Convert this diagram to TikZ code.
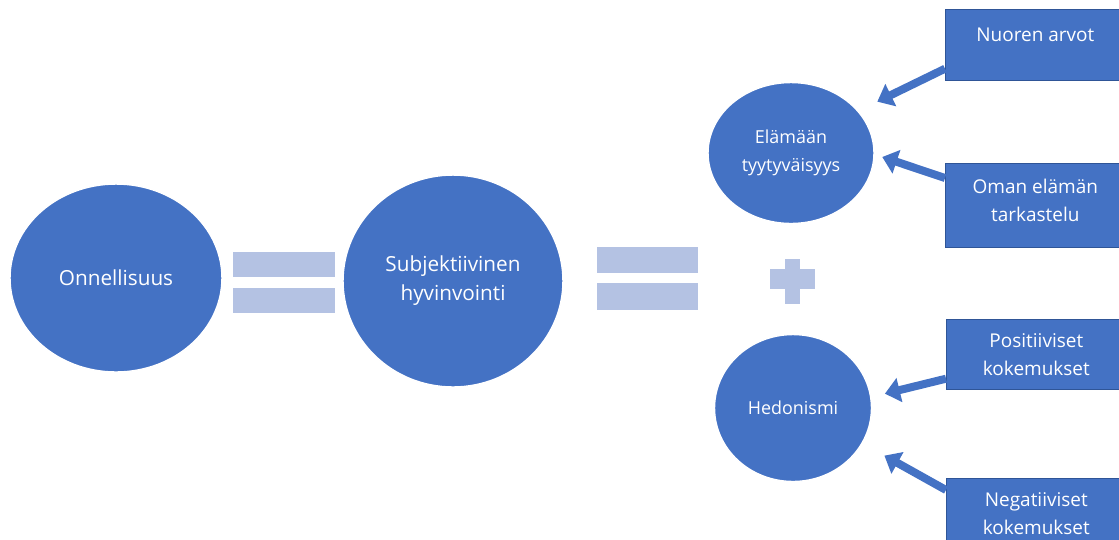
\documentclass[tikz,border=0pt]{standalone}
\usepackage{fontspec}
\setmainfont{Open Sans}
\usepackage{tikz}
\usetikzlibrary{calc, positioning, arrows.meta, shapes.geometric}

\definecolor{officeblue}{HTML}{4472C4}
\definecolor{officedark}{HTML}{2F5597}
\definecolor{eqblue}{HTML}{B4C2E3}

\begin{document}
\begin{tikzpicture}[
  x=0.02cm, y=-0.02cm,
  font=\fontsize{10.2}{16}\selectfont,
  circ/.style={ellipse, fill=officeblue, draw=white, line width=0.8pt, text=white, align=center, inner sep=0pt},
  bigcirc/.style={circ, font=\fontsize{11.8}{16.5}\selectfont},
  infobox/.style={draw=officedark, line width=0.4pt, fill=officeblue, text=white, align=center,
    anchor=north west, minimum width=3.6cm, inner sep=2pt, font=\fontsize{10.8}{16}\selectfont},
  blockarr/.style={-{Triangle[length=0.3cm, width=0.48cm]}, line width=0.16cm, draw=officeblue},
  eq/.style={fill=eqblue}
]
  \useasboundingbox (0,0) rectangle (1119,539);
  \clip (0,0) rectangle (1119,539);

  % main circles
  \node[bigcirc, minimum width=4.24cm, minimum height=3.76cm] (onni) at (116,278) {Onnellisuus};
  \node[bigcirc, minimum width=4.4cm, minimum height=4.24cm] (subj) at (453,281) {Subjektiivinen\\hyvinvointi};
  \node[circ, minimum width=3.32cm, minimum height=2.82cm] (elama) at (791,153) {Elämään\\tyytyväisyys};
  \node[circ, minimum width=3.14cm, minimum height=2.94cm] (hedon) at (793,408) {Hedonismi};

  % equals and plus signs
  \fill[eq] (233,252) rectangle (335,277);
  \fill[eq] (233,288) rectangle (335,313);
  \fill[eq] (597,247) rectangle (698,273);
  \fill[eq] (597,283) rectangle (698,310);
  \fill[eq] (770,269) rectangle (815,289);
  \fill[eq] (785,259) rectangle (800,304);

  % boxes on the right
  \node[infobox, minimum height=1.42cm, text depth=12pt] (nuoren) at (945,9) {Nuoren arvot};
  \node[infobox, minimum height=1.68cm, text depth=6pt] (oman) at (945,163) {Oman elämän\\tarkastelu};
  \node[infobox, minimum height=1.4cm] (posit) at (946,319) {Positiiviset\\kokemukset};
  \node[infobox, minimum height=1.4cm] (negat) at (946,478) {Negatiiviset\\kokemukset};

  \draw[blockarr, shorten >=0.42cm] ($(nuoren.south west)+(0,-12)$) -- (elama.32);
  \draw[blockarr, shorten >=0.16cm] ($(oman.north west)+(0,15)$) -- (elama.-1);
  \draw[blockarr, shorten >=0.28cm] ($(posit.south west)+(0,-11)$) -- (hedon.8);
  \draw[blockarr, shorten >=0.5cm] ($(negat.north west)+(0,12)$) -- (hedon.-27);
\end{tikzpicture}
\end{document}
